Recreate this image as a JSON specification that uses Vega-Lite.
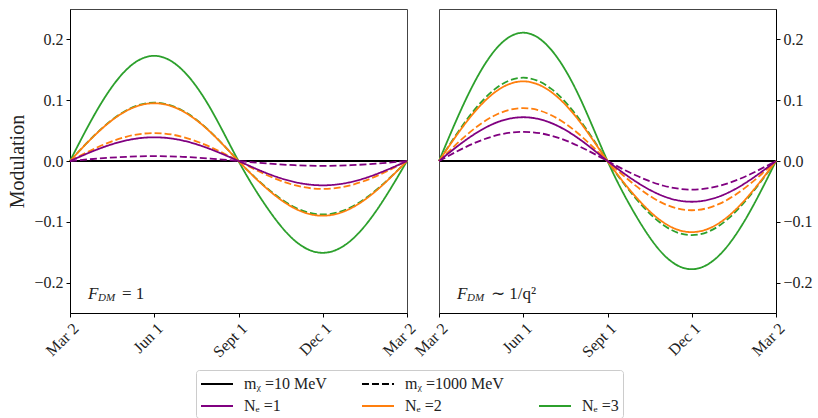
{
  "$schema": "https://vega.github.io/schema/vega-lite/v6.json",
  "padding": {"left": 7, "top": 8, "right": 5, "bottom": 0},
  "bounds": "flush",
  "spacing": 32,
  "data": {"values": [
    {"p":"L","n":3,"m":10,"t":0,"v":0},{"p":"L","n":3,"m":10,"t":1,"v":0.0865},{"p":"L","n":3,"m":10,"t":2,"v":0.1498},{"p":"L","n":3,"m":10,"t":3,"v":0.173},{"p":"L","n":3,"m":10,"t":4,"v":0.1498},{"p":"L","n":3,"m":10,"t":5,"v":0.0865},{"p":"L","n":3,"m":10,"t":6,"v":0},{"p":"L","n":3,"m":10,"t":7,"v":-0.0755},{"p":"L","n":3,"m":10,"t":8,"v":-0.1308},{"p":"L","n":3,"m":10,"t":9,"v":-0.151},{"p":"L","n":3,"m":10,"t":10,"v":-0.1308},{"p":"L","n":3,"m":10,"t":11,"v":-0.0755},{"p":"L","n":3,"m":10,"t":12,"v":0},
    {"p":"L","n":3,"m":1000,"t":0,"v":0},{"p":"L","n":3,"m":1000,"t":1,"v":0.048},{"p":"L","n":3,"m":1000,"t":2,"v":0.0831},{"p":"L","n":3,"m":1000,"t":3,"v":0.096},{"p":"L","n":3,"m":1000,"t":4,"v":0.0831},{"p":"L","n":3,"m":1000,"t":5,"v":0.048},{"p":"L","n":3,"m":1000,"t":6,"v":0},{"p":"L","n":3,"m":1000,"t":7,"v":-0.044},{"p":"L","n":3,"m":1000,"t":8,"v":-0.0762},{"p":"L","n":3,"m":1000,"t":9,"v":-0.088},{"p":"L","n":3,"m":1000,"t":10,"v":-0.0762},{"p":"L","n":3,"m":1000,"t":11,"v":-0.044},{"p":"L","n":3,"m":1000,"t":12,"v":0},
    {"p":"L","n":2,"m":10,"t":0,"v":0},{"p":"L","n":2,"m":10,"t":1,"v":0.0475},{"p":"L","n":2,"m":10,"t":2,"v":0.0823},{"p":"L","n":2,"m":10,"t":3,"v":0.095},{"p":"L","n":2,"m":10,"t":4,"v":0.0823},{"p":"L","n":2,"m":10,"t":5,"v":0.0475},{"p":"L","n":2,"m":10,"t":6,"v":0},{"p":"L","n":2,"m":10,"t":7,"v":-0.045},{"p":"L","n":2,"m":10,"t":8,"v":-0.0779},{"p":"L","n":2,"m":10,"t":9,"v":-0.09},{"p":"L","n":2,"m":10,"t":10,"v":-0.0779},{"p":"L","n":2,"m":10,"t":11,"v":-0.045},{"p":"L","n":2,"m":10,"t":12,"v":0},
    {"p":"L","n":2,"m":1000,"t":0,"v":0},{"p":"L","n":2,"m":1000,"t":1,"v":0.023},{"p":"L","n":2,"m":1000,"t":2,"v":0.0398},{"p":"L","n":2,"m":1000,"t":3,"v":0.046},{"p":"L","n":2,"m":1000,"t":4,"v":0.0398},{"p":"L","n":2,"m":1000,"t":5,"v":0.023},{"p":"L","n":2,"m":1000,"t":6,"v":0},{"p":"L","n":2,"m":1000,"t":7,"v":-0.023},{"p":"L","n":2,"m":1000,"t":8,"v":-0.0398},{"p":"L","n":2,"m":1000,"t":9,"v":-0.046},{"p":"L","n":2,"m":1000,"t":10,"v":-0.0398},{"p":"L","n":2,"m":1000,"t":11,"v":-0.023},{"p":"L","n":2,"m":1000,"t":12,"v":0},
    {"p":"L","n":1,"m":10,"t":0,"v":0},{"p":"L","n":1,"m":10,"t":1,"v":0.0195},{"p":"L","n":1,"m":10,"t":2,"v":0.0338},{"p":"L","n":1,"m":10,"t":3,"v":0.039},{"p":"L","n":1,"m":10,"t":4,"v":0.0338},{"p":"L","n":1,"m":10,"t":5,"v":0.0195},{"p":"L","n":1,"m":10,"t":6,"v":0},{"p":"L","n":1,"m":10,"t":7,"v":-0.02},{"p":"L","n":1,"m":10,"t":8,"v":-0.0346},{"p":"L","n":1,"m":10,"t":9,"v":-0.04},{"p":"L","n":1,"m":10,"t":10,"v":-0.0346},{"p":"L","n":1,"m":10,"t":11,"v":-0.02},{"p":"L","n":1,"m":10,"t":12,"v":0},
    {"p":"L","n":1,"m":1000,"t":0,"v":0},{"p":"L","n":1,"m":1000,"t":1,"v":0.004},{"p":"L","n":1,"m":1000,"t":2,"v":0.0069},{"p":"L","n":1,"m":1000,"t":3,"v":0.008},{"p":"L","n":1,"m":1000,"t":4,"v":0.0069},{"p":"L","n":1,"m":1000,"t":5,"v":0.004},{"p":"L","n":1,"m":1000,"t":6,"v":0},{"p":"L","n":1,"m":1000,"t":7,"v":-0.004},{"p":"L","n":1,"m":1000,"t":8,"v":-0.0069},{"p":"L","n":1,"m":1000,"t":9,"v":-0.008},{"p":"L","n":1,"m":1000,"t":10,"v":-0.0069},{"p":"L","n":1,"m":1000,"t":11,"v":-0.004},{"p":"L","n":1,"m":1000,"t":12,"v":0},
    {"p":"R","n":3,"m":10,"t":0,"v":0},{"p":"R","n":3,"m":10,"t":1,"v":0.1055},{"p":"R","n":3,"m":10,"t":2,"v":0.1827},{"p":"R","n":3,"m":10,"t":3,"v":0.211},{"p":"R","n":3,"m":10,"t":4,"v":0.1827},{"p":"R","n":3,"m":10,"t":5,"v":0.1055},{"p":"R","n":3,"m":10,"t":6,"v":0},{"p":"R","n":3,"m":10,"t":7,"v":-0.089},{"p":"R","n":3,"m":10,"t":8,"v":-0.1541},{"p":"R","n":3,"m":10,"t":9,"v":-0.178},{"p":"R","n":3,"m":10,"t":10,"v":-0.1541},{"p":"R","n":3,"m":10,"t":11,"v":-0.089},{"p":"R","n":3,"m":10,"t":12,"v":0},
    {"p":"R","n":3,"m":1000,"t":0,"v":0},{"p":"R","n":3,"m":1000,"t":1,"v":0.0685},{"p":"R","n":3,"m":1000,"t":2,"v":0.1186},{"p":"R","n":3,"m":1000,"t":3,"v":0.137},{"p":"R","n":3,"m":1000,"t":4,"v":0.1186},{"p":"R","n":3,"m":1000,"t":5,"v":0.0685},{"p":"R","n":3,"m":1000,"t":6,"v":0},{"p":"R","n":3,"m":1000,"t":7,"v":-0.061},{"p":"R","n":3,"m":1000,"t":8,"v":-0.1057},{"p":"R","n":3,"m":1000,"t":9,"v":-0.122},{"p":"R","n":3,"m":1000,"t":10,"v":-0.1057},{"p":"R","n":3,"m":1000,"t":11,"v":-0.061},{"p":"R","n":3,"m":1000,"t":12,"v":0},
    {"p":"R","n":2,"m":10,"t":0,"v":0},{"p":"R","n":2,"m":10,"t":1,"v":0.0655},{"p":"R","n":2,"m":10,"t":2,"v":0.1134},{"p":"R","n":2,"m":10,"t":3,"v":0.131},{"p":"R","n":2,"m":10,"t":4,"v":0.1134},{"p":"R","n":2,"m":10,"t":5,"v":0.0655},{"p":"R","n":2,"m":10,"t":6,"v":0},{"p":"R","n":2,"m":10,"t":7,"v":-0.0585},{"p":"R","n":2,"m":10,"t":8,"v":-0.1013},{"p":"R","n":2,"m":10,"t":9,"v":-0.117},{"p":"R","n":2,"m":10,"t":10,"v":-0.1013},{"p":"R","n":2,"m":10,"t":11,"v":-0.0585},{"p":"R","n":2,"m":10,"t":12,"v":0},
    {"p":"R","n":2,"m":1000,"t":0,"v":0},{"p":"R","n":2,"m":1000,"t":1,"v":0.0435},{"p":"R","n":2,"m":1000,"t":2,"v":0.0753},{"p":"R","n":2,"m":1000,"t":3,"v":0.087},{"p":"R","n":2,"m":1000,"t":4,"v":0.0753},{"p":"R","n":2,"m":1000,"t":5,"v":0.0435},{"p":"R","n":2,"m":1000,"t":6,"v":0},{"p":"R","n":2,"m":1000,"t":7,"v":-0.0405},{"p":"R","n":2,"m":1000,"t":8,"v":-0.0701},{"p":"R","n":2,"m":1000,"t":9,"v":-0.081},{"p":"R","n":2,"m":1000,"t":10,"v":-0.0701},{"p":"R","n":2,"m":1000,"t":11,"v":-0.0405},{"p":"R","n":2,"m":1000,"t":12,"v":0},
    {"p":"R","n":1,"m":10,"t":0,"v":0},{"p":"R","n":1,"m":10,"t":1,"v":0.036},{"p":"R","n":1,"m":10,"t":2,"v":0.0624},{"p":"R","n":1,"m":10,"t":3,"v":0.072},{"p":"R","n":1,"m":10,"t":4,"v":0.0624},{"p":"R","n":1,"m":10,"t":5,"v":0.036},{"p":"R","n":1,"m":10,"t":6,"v":0},{"p":"R","n":1,"m":10,"t":7,"v":-0.0335},{"p":"R","n":1,"m":10,"t":8,"v":-0.058},{"p":"R","n":1,"m":10,"t":9,"v":-0.067},{"p":"R","n":1,"m":10,"t":10,"v":-0.058},{"p":"R","n":1,"m":10,"t":11,"v":-0.0335},{"p":"R","n":1,"m":10,"t":12,"v":0},
    {"p":"R","n":1,"m":1000,"t":0,"v":0},{"p":"R","n":1,"m":1000,"t":1,"v":0.024},{"p":"R","n":1,"m":1000,"t":2,"v":0.0416},{"p":"R","n":1,"m":1000,"t":3,"v":0.048},{"p":"R","n":1,"m":1000,"t":4,"v":0.0416},{"p":"R","n":1,"m":1000,"t":5,"v":0.024},{"p":"R","n":1,"m":1000,"t":6,"v":0},{"p":"R","n":1,"m":1000,"t":7,"v":-0.0235},{"p":"R","n":1,"m":1000,"t":8,"v":-0.0407},{"p":"R","n":1,"m":1000,"t":9,"v":-0.047},{"p":"R","n":1,"m":1000,"t":10,"v":-0.0407},{"p":"R","n":1,"m":1000,"t":11,"v":-0.0235},{"p":"R","n":1,"m":1000,"t":12,"v":0}
  ]},
  "hconcat": [
    {
      "width": 337, "height": 304,
      "layer": [
        {
          "data": {"values": [{}]},
          "mark": {"type": "rule", "color": "black", "strokeWidth": 2},
          "encoding": {"y": {"datum": 0, "type": "quantitative", "scale": {"domain": [-0.25, 0.25]}}}
        },
        {
          "transform": [{"filter": "datum.p == 'L'"}],
          "mark": {"type": "line", "interpolate": "natural", "strokeWidth": 1.8},
          "encoding": {
            "x": {"field": "t", "type": "quantitative", "scale": {"domain": [0, 12], "nice": false},
              "axis": {"values": [0, 3, 6, 9, 12], "title": null, "labelExpr": "['Mar 2','Jun 1','Sept 1','Dec 1','Mar 2'][datum.value/3]", "labelAngle": -45, "labelAlign": "right", "labelBaseline": "top"}},
            "y": {"field": "v", "type": "quantitative", "scale": {"domain": [-0.25, 0.25], "nice": false},
              "axis": {"values": [-0.2, -0.1, 0, 0.1, 0.2], "format": ".1f", "title": "Modulation", "orient": "left"}},
            "color": {"field": "n", "type": "nominal", "scale": {"domain": [10, 1, 1000, 2, 0, 3], "range": ["black", "purple", "black", "#ff7f0e", "white", "#2ca02c"]},
              "legend": {"title": null, "columns": 3, "orient": "none", "legendX": 126, "legendY": 361,
                "labelExpr": "datum.value == 10 ? 'mᵪ =10 MeV' : datum.value == 1000 ? 'mᵪ =1000 MeV' : datum.value == 0 ? '' : 'Nₑ =' + datum.label",
                "encode": {"symbols": {"update": {"strokeDash": {"signal": "datum.value == 1000 ? [7, 3] : [1, 0]"}}}}}},
            "strokeDash": {"field": "m", "type": "nominal", "scale": {"domain": [10, 1000], "range": [[1, 0], [7, 3]]}, "legend": null}
          }
        },
        {
          "data": {"values": [{}]},
          "mark": {"type": "text", "text": "F", "fontStyle": "italic", "fontSize": 17, "align": "left", "color": "#222"},
          "encoding": {"x": {"datum": 0.64, "type": "quantitative"}, "y": {"datum": -0.218, "type": "quantitative"}}
        },
        {
          "data": {"values": [{}]},
          "mark": {"type": "text", "text": "DM", "fontStyle": "italic", "fontSize": 11, "align": "left", "dx": 10, "dy": 4, "color": "#222"},
          "encoding": {"x": {"datum": 0.64, "type": "quantitative"}, "y": {"datum": -0.218, "type": "quantitative"}}
        },
        {
          "data": {"values": [{}]},
          "mark": {"type": "text", "text": "= 1", "fontSize": 17, "align": "left", "dx": 34, "color": "#222"},
          "encoding": {"x": {"datum": 0.64, "type": "quantitative"}, "y": {"datum": -0.218, "type": "quantitative"}}
        }
      ]
    },
    {
      "width": 337, "height": 304,
      "layer": [
        {
          "data": {"values": [{}]},
          "mark": {"type": "rule", "color": "black", "strokeWidth": 2},
          "encoding": {"y": {"datum": 0, "type": "quantitative", "scale": {"domain": [-0.25, 0.25]}}}
        },
        {
          "transform": [{"filter": "datum.p == 'R'"}],
          "mark": {"type": "line", "interpolate": "natural", "strokeWidth": 1.8},
          "encoding": {
            "x": {"field": "t", "type": "quantitative", "scale": {"domain": [0, 12], "nice": false},
              "axis": {"values": [0, 3, 6, 9, 12], "title": null, "labelExpr": "['Mar 2','Jun 1','Sept 1','Dec 1','Mar 2'][datum.value/3]", "labelAngle": -45, "labelAlign": "right", "labelBaseline": "top"}},
            "y": {"field": "v", "type": "quantitative", "scale": {"domain": [-0.25, 0.25], "nice": false},
              "axis": {"values": [-0.2, -0.1, 0, 0.1, 0.2], "format": ".1f", "title": null, "orient": "right"}},
            "color": {"field": "n", "type": "nominal", "scale": {"domain": [10, 1, 1000, 2, 0, 3], "range": ["black", "purple", "black", "#ff7f0e", "white", "#2ca02c"]},
              "legend": {"title": null, "columns": 3, "orient": "none", "legendX": 126, "legendY": 361,
                "labelExpr": "datum.value == 10 ? 'mᵪ =10 MeV' : datum.value == 1000 ? 'mᵪ =1000 MeV' : datum.value == 0 ? '' : 'Nₑ =' + datum.label",
                "encode": {"symbols": {"update": {"strokeDash": {"signal": "datum.value == 1000 ? [7, 3] : [1, 0]"}}}}}},
            "strokeDash": {"field": "m", "type": "nominal", "scale": {"domain": [10, 1000], "range": [[1, 0], [7, 3]]}, "legend": null}
          }
        },
        {
          "data": {"values": [{}]},
          "mark": {"type": "text", "text": "F", "fontStyle": "italic", "fontSize": 17, "align": "left", "color": "#222"},
          "encoding": {"x": {"datum": 0.64, "type": "quantitative"}, "y": {"datum": -0.218, "type": "quantitative"}}
        },
        {
          "data": {"values": [{}]},
          "mark": {"type": "text", "text": "DM", "fontStyle": "italic", "fontSize": 11, "align": "left", "dx": 10, "dy": 4, "color": "#222"},
          "encoding": {"x": {"datum": 0.64, "type": "quantitative"}, "y": {"datum": -0.218, "type": "quantitative"}}
        },
        {
          "data": {"values": [{}]},
          "mark": {"type": "text", "text": "∼ 1/q²", "fontSize": 17, "align": "left", "dx": 34, "color": "#222"},
          "encoding": {"x": {"datum": 0.64, "type": "quantitative"}, "y": {"datum": -0.218, "type": "quantitative"}}
        }
      ]
    }
  ],
  "resolve": {"scale": {"color": "shared", "strokeDash": "shared"}, "legend": {"color": "shared", "strokeDash": "shared"}},
  "config": {
    "font": "Liberation Serif",
    "view": {"stroke": "#444", "strokeWidth": 1},
    "axis": {"grid": false, "labelFont": "Liberation Serif", "labelFontSize": 16, "labelColor": "#222", "domainColor": "#000", "tickColor": "#000", "tickSize": 4, "labelPadding": 3, "titleFont": "Liberation Serif", "titleFontSize": 20, "titleFontWeight": "normal", "titleColor": "#222", "titlePadding": 6},
    "legend": {"labelFont": "Liberation Serif", "labelFontSize": 16, "labelColor": "#222", "symbolType": "M-1.78,0H1.78", "symbolSize": 324, "symbolStrokeWidth": 2, "symbolOffset": 7, "strokeColor": "#ccc", "padding": 4, "cornerRadius": 3, "columnPadding": 30, "rowPadding": 4, "labelOffset": 17}
  }
}
